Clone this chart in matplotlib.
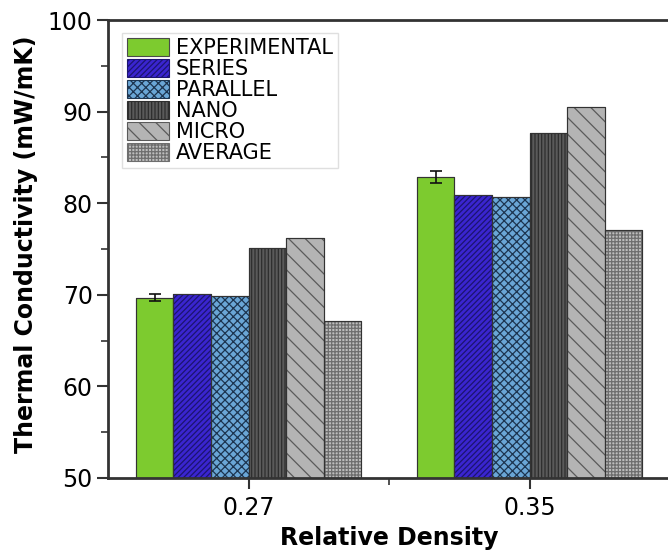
import numpy as np
import matplotlib
matplotlib.use("Agg")
import matplotlib.pyplot as plt
from matplotlib.ticker import MultipleLocator, FixedLocator

# relative density groups and thermal conductivity (mW/mK) per model
densities = [0.27, 0.35]
labels = ["EXPERIMENTAL", "SERIES", "PARALLEL", "NANO", "MICRO", "AVERAGE"]
experimental = [69.7, 82.9]
experimental_err = [0.35, 0.65]
series = [70.1, 80.9]
parallel = [69.9, 80.7]
nano = [75.1, 87.7]
micro = [76.2, 90.5]
average = [67.1, 77.1]

values = [experimental, series, parallel, nano, micro, average]
faces = ["#7dcb2f", "#3a25d0", "#6aa6d6", "#5a5a5a", "#b4b4b4", "#bdbdbd"]
hatch_cols = ["#4a4a4a", "#1c1470", "#1d3550", "#2e2e2e", "#5a5a5a", "#6e6e6e"]
hatches = [None, "//////", "xxxx", "|||||", "\\\\", "+++++"]

plt.rcParams["font.family"] = ["DejaVu Sans"]
plt.rcParams["hatch.linewidth"] = 0.9

fig = plt.figure(figsize=(6.68, 5.51), dpi=100)
ax = fig.add_axes([0.1617, 0.1325, 0.8413, 0.8312])

width = 0.0107
x = np.array(densities)
for i, (vals, fc, hc, h, lab) in enumerate(zip(values, faces, hatch_cols, hatches, labels)):
    pos = x + (i - 2.5) * width
    ax.bar(pos, vals, width, color=fc, edgecolor=hc, hatch=h, linewidth=0.8,
           label=lab, zorder=2)
    ax.bar(pos, vals, width, fill=False, edgecolor="#333333", linewidth=0.8, zorder=3)
    if i == 0:
        ax.errorbar(pos, vals, yerr=experimental_err, fmt="none", ecolor="#111111",
                    elinewidth=1.2, capsize=4, capthick=1.2, zorder=4)

ax.set_xlim(0.23, 0.39)
ax.set_ylim(50, 100)
ax.set_xticks(densities)
ax.set_xticklabels(["0.27", "0.35"])
ax.xaxis.set_minor_locator(FixedLocator([0.31]))
ax.yaxis.set_major_locator(MultipleLocator(10))
ax.yaxis.set_minor_locator(MultipleLocator(5))

for s in ax.spines.values():
    s.set_linewidth(2)
    s.set_color("#333333")
ax.tick_params(which="major", direction="out", length=8, width=1.5, color="#333333",
               labelsize=17)
ax.tick_params(which="minor", direction="out", length=5, width=1.2, color="#333333")
ax.tick_params(axis="x", which="major", pad=5)
ax.tick_params(axis="y", which="major", pad=3)
ax.tick_params(axis="x", which="both", top=False)
ax.tick_params(axis="y", which="both", right=False)

ax.set_xlabel("Relative Density", fontsize=17, fontweight="bold")
ax.set_ylabel("Thermal Conductivity (mW/mK)", fontsize=17, fontweight="bold")
ax.xaxis.set_label_coords(0.5, -0.104)
ax.yaxis.set_label_coords(-0.125, 0.51)

leg = ax.legend(loc="upper left", bbox_to_anchor=(0.025, 0.972), borderaxespad=0,
                fontsize=15, frameon=True, fancybox=False, edgecolor="#d8d8d8",
                handlelength=2.0, handleheight=0.92, labelspacing=0.05,
                borderpad=0.25, handletextpad=0.34)
leg.get_frame().set_linewidth(1)

fig.savefig("out.png", dpi=100)
